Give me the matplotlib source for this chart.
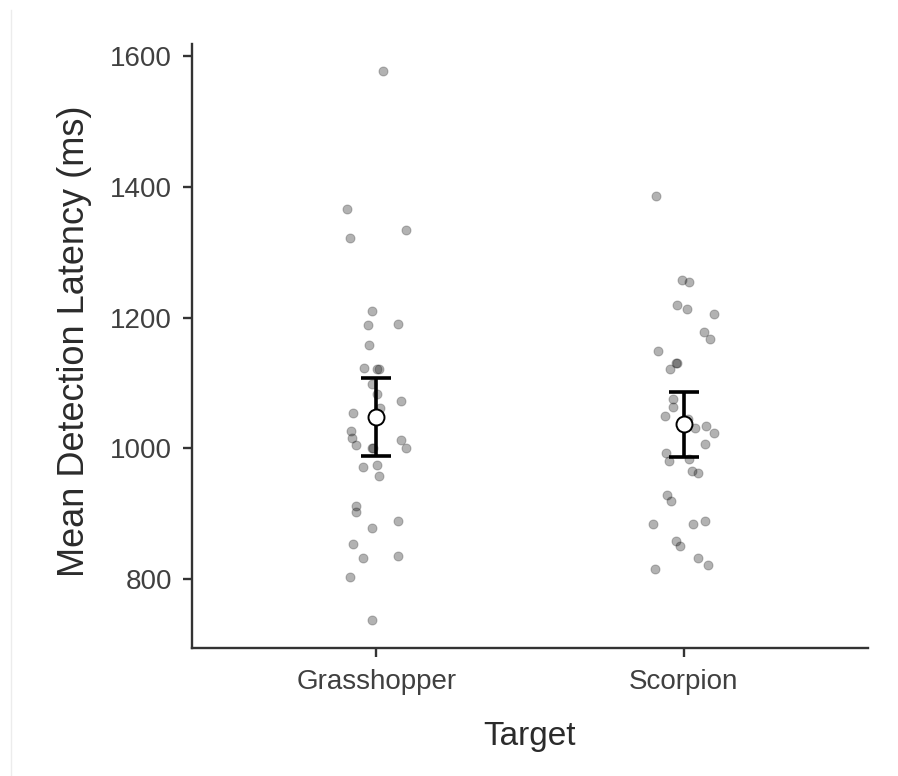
import matplotlib
matplotlib.use("Agg")
import matplotlib.pyplot as plt
from matplotlib.lines import Line2D
import numpy as np

# ---- data ----
categories = ["Grasshopper", "Scorpion"]

grass_values = [1578, 1367, 1335, 1322, 1211, 1189, 1191, 1159, 1123, 1121, 1121,
                1098, 1084, 1072, 1062, 1054, 1026, 1016, 1006, 1013, 1001, 1001,
                1000, 971, 975, 958, 912, 902, 889, 878, 854, 832, 835, 803, 737]
grass_jitter = [0.022, -0.097, 0.097, -0.086, -0.015, -0.026, 0.070, -0.024, -0.039,
                0.003, 0.009, -0.015, 0.001, 0.080, 0.012, -0.076, -0.084, -0.078,
                -0.065, 0.081, 0.095, -0.015, -0.011, -0.045, 0.003, 0.008, -0.067,
                -0.067, 0.071, -0.014, -0.075, -0.043, 0.071, -0.085, -0.015]

scorp_values = [1386, 1258, 1254, 1219, 1214, 1206, 1178, 1168, 1149, 1131, 1130,
                1121, 1075, 1063, 1049, 1045, 1031, 1035, 1024, 1007, 993, 981, 984,
                966, 962, 928, 920, 884, 884, 889, 859, 851, 833, 822, 816]
scorp_jitter = [-0.090, -0.005, 0.017, -0.020, 0.010, 0.100, 0.065, 0.086, -0.083,
                -0.025, -0.022, -0.045, -0.034, -0.034, -0.061, 0.015, 0.037, 0.072,
                0.100, 0.069, -0.059, -0.048, 0.018, 0.028, 0.046, -0.053, -0.041,
                -0.100, 0.031, 0.068, -0.025, -0.012, 0.046, 0.078, -0.092]

means = [1048, 1037]
ci_lower = [988, 987]
ci_upper = [1108, 1087]

y_ticks = [800, 1000, 1200, 1400, 1600]

# ---- figure ----
plt.rcParams["font.family"] = ["Liberation Sans", "DejaVu Sans"]
fig = plt.figure(figsize=(8.98, 7.76), dpi=100)
ax = fig.add_axes([192 / 898, 1 - 647.7 / 776, 676 / 898, 603.7 / 776])

positions = np.arange(1, len(categories) + 1)
for pos, vals, jit in zip(positions, [grass_values, scorp_values], [grass_jitter, scorp_jitter]):
    ax.scatter(pos + np.array(jit), vals, s=42, facecolor=(0, 0, 0, 0.30),
               edgecolor=(0, 0, 0, 0.22), linewidth=0.8, zorder=2)

means_arr = np.array(means)
yerr = np.vstack([means_arr - np.array(ci_lower), np.array(ci_upper) - means_arr])
ax.errorbar(positions, means, yerr=yerr, fmt="none", ecolor="black",
            elinewidth=2.6, capsize=10.8, capthick=2.6, zorder=3)
ax.plot(positions, means, "o", markersize=11.5, markerfacecolor="white",
        markeredgecolor="black", markeredgewidth=1.4, zorder=4)

ax.set_xlim(0.4, 2.6)
ax.set_ylim(695, 1619)
ax.set_xticks(positions)
ax.set_xticklabels(categories)
ax.set_yticks(y_ticks)

for side in ["top", "right"]:
    ax.spines[side].set_visible(False)
for side in ["left", "bottom"]:
    ax.spines[side].set_color("#333333")
    ax.spines[side].set_linewidth(1.7)

ax.tick_params(axis="both", length=6.5, width=1.7, color="#333333",
               labelsize=20, labelcolor="#404040")
ax.tick_params(axis="y", pad=8)
ax.tick_params(axis="x", pad=9)

ax.set_ylabel("Mean Detection Latency (ms)", fontsize=26, color="#2b2b2b")
ax.set_xlabel("Target", fontsize=24, color="#2b2b2b")
ax.yaxis.set_label_coords(-0.148, 0.508)
ax.xaxis.set_label_coords(0.5, -0.122)

fig.add_artist(Line2D([10.5 / 898, 10.5 / 898], [0, 1 - 10 / 776], color="#ececec",
                      linewidth=1, transform=fig.transFigure))

fig.savefig("out.png", dpi=100)
